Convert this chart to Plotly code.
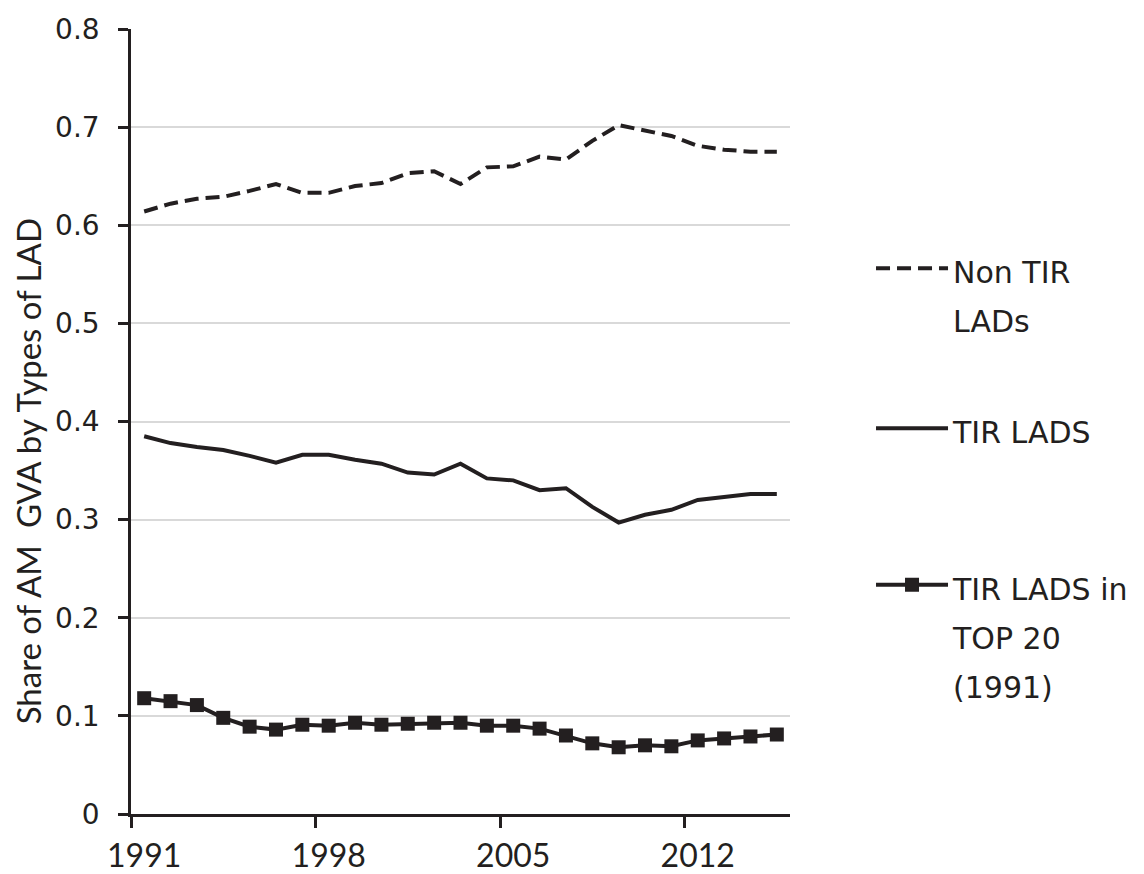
import plotly.graph_objects as go

# ---- data ----
years = list(range(1991, 2016))
label_years = [1991, 1998, 2005, 2012]
y_ticks = [0, 0.1, 0.2, 0.3, 0.4, 0.5, 0.6, 0.7, 0.8]

non_tir = [0.614, 0.622, 0.627, 0.629, 0.635, 0.642, 0.633, 0.633, 0.640, 0.643,
           0.653, 0.655, 0.642, 0.659, 0.660, 0.670, 0.667, 0.686, 0.702, 0.696,
           0.691, 0.681, 0.677, 0.675, 0.675]
tir = [0.385, 0.378, 0.374, 0.371, 0.365, 0.358, 0.366, 0.366, 0.361, 0.357,
       0.348, 0.346, 0.357, 0.342, 0.340, 0.330, 0.332, 0.313, 0.297, 0.305,
       0.310, 0.320, 0.323, 0.326, 0.326]
tir_top20 = [0.118, 0.115, 0.111, 0.098, 0.089, 0.086, 0.091, 0.090, 0.093, 0.091,
             0.092, 0.093, 0.093, 0.090, 0.090, 0.087, 0.080, 0.072, 0.068, 0.070,
             0.069, 0.075, 0.077, 0.079, 0.081]

name_lines = [["Non TIR", "LADs"], ["TIR LADS"], ["TIR LADS in", "TOP 20", "(1991)"]]
y_title = "Share of AM  GVA by Types of LAD"

INK = "#231F20"
boundaries = [y - 0.5 for y in label_years]


def legend_name(lines):
    return "<br>".join("<span style='font-size:30px'>%s</span>" % s for s in lines)


fig = go.Figure()
fig.add_trace(go.Scatter(x=years, y=non_tir, mode="lines", name=legend_name(name_lines[0]),
                         line=dict(color=INK, width=4, dash="14px,7px"),
                         legend="legend"))
fig.add_trace(go.Scatter(x=years, y=tir, mode="lines", name=legend_name(name_lines[1]),
                         line=dict(color=INK, width=4),
                         legend="legend2"))
fig.add_trace(go.Scatter(x=years, y=tir_top20, mode="lines+markers",
                         name=legend_name(name_lines[2]),
                         line=dict(color=INK, width=4),
                         marker=dict(symbol="square", size=14, color=INK),
                         legend="legend3"))

leg_common = dict(font=dict(family="DejaVu Sans", size=38, color=INK),
                  itemwidth=72, valign="top", xanchor="left", yanchor="top",
                  xref="container", yref="container",
                  bgcolor="rgba(0,0,0,0)", borderwidth=0, x=0.7597)

fig.update_layout(
    width=1136, height=866,
    margin=dict(l=123, r=354, t=21, b=60),
    paper_bgcolor="white", plot_bgcolor="white",
    showlegend=True,
    legend=dict(**leg_common, y=0.7356),
    legend2=dict(**leg_common, y=0.5508),
    legend3=dict(**leg_common, y=0.370),
    xaxis=dict(range=[years[0] - 0.5, years[-1] + 0.5],
               tickmode="array", tickvals=label_years,
               ticktext=[str(v) for v in label_years],
               ticks="", showgrid=False, zeroline=False, automargin=False,
               showline=True, linecolor=INK, linewidth=2.5,
               tickfont=dict(family="Lato", size=32, color=INK),
               ticklabelstandoff=12,
               minor=dict(tickmode="array", tickvals=boundaries, ticks="outside",
                          ticklen=11, tickwidth=2.5, tickcolor=INK, showgrid=False)),
    yaxis=dict(range=[0, 0.8], tickmode="array", tickvals=y_ticks,
               ticktext=[("%g" % v) for v in y_ticks],
               ticks="outside", ticklen=10, tickwidth=2.5, tickcolor=INK,
               showgrid=True, gridcolor="#D9D9D9", gridwidth=2,
               zeroline=False, showline=True, linecolor=INK, linewidth=2.5,
               automargin=False,
               tickfont=dict(family="DejaVu Sans", size=28, color=INK),
               ticklabelstandoff=13),
    annotations=[dict(text=y_title, textangle=-90, xref="paper", yref="paper",
                      x=-0.157, y=0.436, xanchor="center", yanchor="middle",
                      showarrow=False,
                      font=dict(family="Lato", size=33, color=INK))],
)

fig.write_html("out.html")
